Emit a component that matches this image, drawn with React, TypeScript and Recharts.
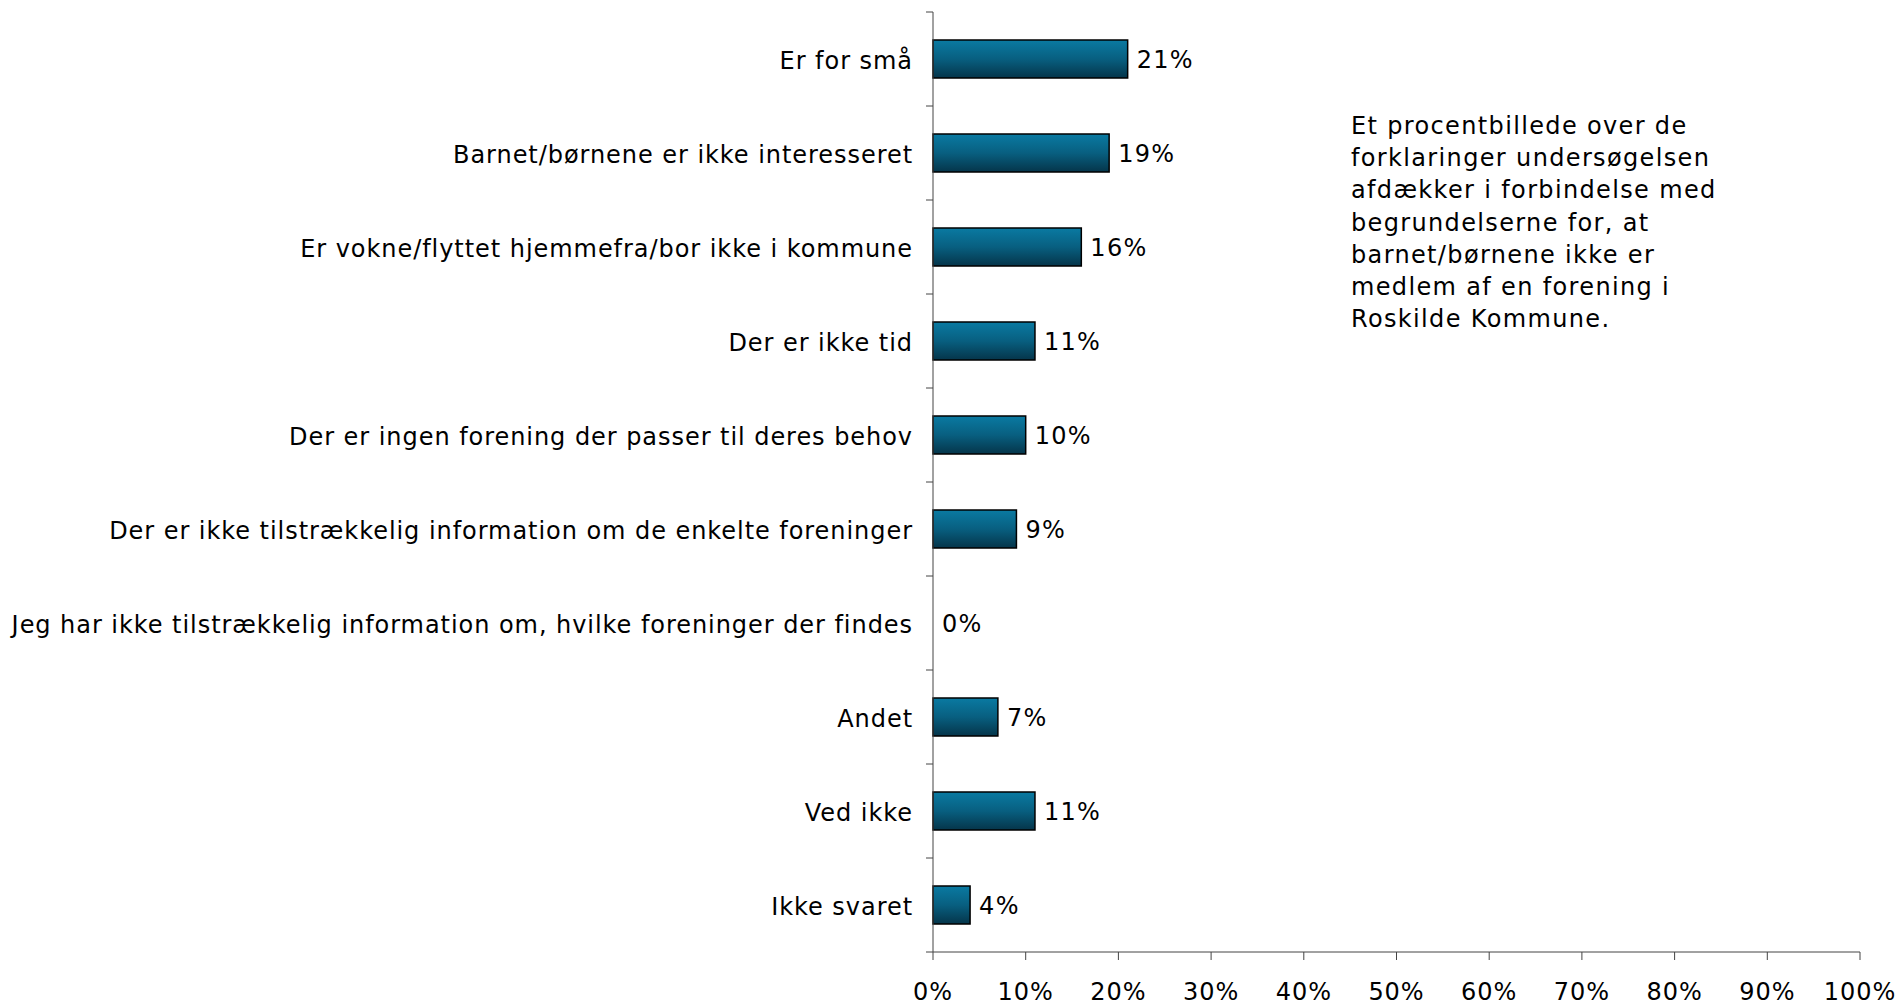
import React from 'react';
import { BarChart, Bar, XAxis, YAxis, LabelList, Rectangle } from 'recharts';

const categories = [
  'Er for små',
  'Barnet/børnene er ikke interesseret',
  'Er vokne/flyttet hjemmefra/bor ikke i kommune',
  'Der er ikke tid',
  'Der er ingen forening der passer til deres behov',
  'Der er ikke tilstrækkelig information om de enkelte foreninger',
  'Jeg har ikke tilstrækkelig information om, hvilke foreninger der findes',
  'Andet',
  'Ved ikke',
  'Ikke svaret',
];
const shares = [21, 19, 16, 11, 10, 9, 0, 7, 11, 4];
const xTicks = [0, 10, 20, 30, 40, 50, 60, 70, 80, 90, 100];
const noteLines = [
  'Et procentbillede over de',
  'forklaringer undersøgelsen',
  'afdækker i forbindelse med',
  'begrundelserne for, at',
  'barnet/børnene ikke er',
  'medlem af en forening i',
  'Roskilde Kommune.',
];

const data = categories.map((name, i) => ({ name, share: shares[i] }));

const W = 1903;
const H = 1005;
const TOP = 12;
const AXIS_W = 933;
const AXIS_H = 53;
const FONT = '"DejaVu Sans", Verdana, sans-serif';
const SPACING = '0.95px';
const AXIS_COLOR = '#444';
const TICK = 7;
const GAP = 13;
const band = (H - TOP - AXIS_H) / categories.length;

const CategoryTick = (props: any) => {
  const { x, y, payload, index } = props;
  const ax = x + TICK + GAP;
  const half = payload?.offset || band / 2;
  return (
    <g>
      <line x1={ax - TICK} x2={ax} y1={y - half} y2={y - half} stroke={AXIS_COLOR} />
      {index === categories.length - 1 && (
        <line x1={ax - TICK} x2={ax} y1={y + half} y2={y + half} stroke={AXIS_COLOR} />
      )}
      <text
        x={x}
        y={y}
        dy="0.4em"
        textAnchor="end"
        fontSize={24}
        fontFamily={FONT}
        fill="#000"
        style={{ letterSpacing: SPACING }}
      >
        {payload.value}
      </text>
    </g>
  );
};

// zero-valued bars get a hairline width so their label still shows, but nothing is drawn
const BarShape = (props: any) =>
  props.payload && props.payload.share > 0 ? <Rectangle {...props} /> : <g />;

export default function App() {
  return (
    <div style={{ position: 'absolute', left: 0, top: 0, width: W, height: H, background: '#fff' }}>
      <BarChart
        width={W}
        height={H}
        data={data}
        layout="vertical"
        margin={{ top: TOP, right: 43, bottom: 0, left: 0 }}
      >
        <defs>
          <linearGradient id="barFill" x1="0" y1="0" x2="0" y2="1">
            <stop offset="0%" stopColor="#0a7aa2" />
            <stop offset="50%" stopColor="#085f80" />
            <stop offset="100%" stopColor="#05354a" />
          </linearGradient>
        </defs>
        <XAxis
          type="number"
          domain={[0, 100]}
          ticks={xTicks}
          interval={0}
          height={AXIS_H}
          tickSize={8}
          tickMargin={23}
          tickFormatter={(v: number) => `${v}%`}
          axisLine={{ stroke: AXIS_COLOR }}
          tickLine={{ stroke: AXIS_COLOR }}
          tick={{ fill: '#000', fontSize: 24, fontFamily: FONT, style: { letterSpacing: SPACING } }}
        />
        <YAxis
          type="category"
          dataKey="name"
          width={AXIS_W}
          interval={0}
          tickSize={TICK}
          tickMargin={GAP}
          tickLine={false}
          axisLine={{ stroke: AXIS_COLOR }}
          tick={<CategoryTick />}
        />
        <Bar
          dataKey="share"
          barSize={38}
          minPointSize={0.01}
          fill="url(#barFill)"
          stroke="#000"
          strokeWidth={1.5}
          shape={<BarShape />}
          isAnimationActive={false}
        >
          <LabelList
            dataKey="share"
            position="right"
            offset={9}
            formatter={(v: any) => `${v}%`}
            fill="#000"
            fontSize={24}
            fontFamily={FONT}
            style={{ letterSpacing: '1.3px' }}
          />
        </Bar>
      </BarChart>
      <div
        style={{
          position: 'absolute',
          left: 1351,
          top: 110,
          fontFamily: FONT,
          fontSize: 24,
          lineHeight: '32.2px',
          letterSpacing: '1.35px',
          color: '#000',
          whiteSpace: 'nowrap',
        }}
      >
        {noteLines.map((l) => (
          <div key={l}>{l}</div>
        ))}
      </div>
    </div>
  );
}
